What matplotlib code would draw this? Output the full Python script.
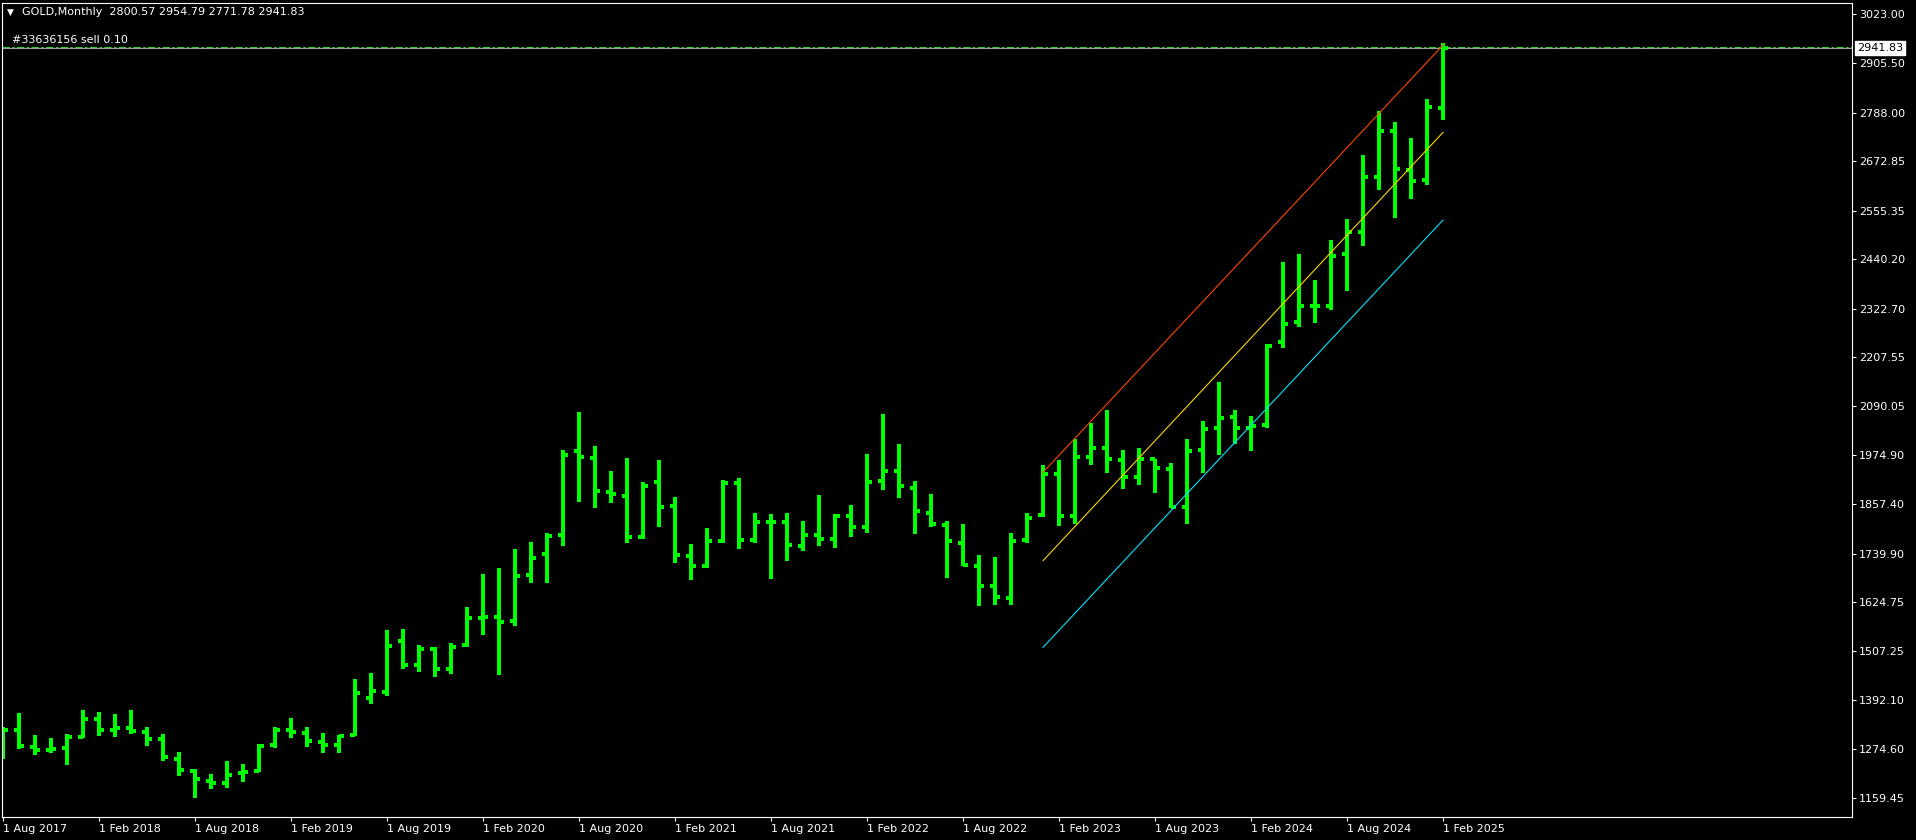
import matplotlib
matplotlib.use("Agg")
import matplotlib.pyplot as plt
import matplotlib.transforms as mtransforms
import numpy as np
import pandas as pd

# ---------------- data ----------------
start_month = "2017-08-01"
opens = [1269.0, 1320.3, 1280.7, 1272.8, 1277.5, 1303.7, 1346.5, 1320.3, 1325.9, 1316.4,
         1299.7, 1252.1, 1223.6, 1199.8, 1195.1, 1218.9, 1222.8, 1285.5, 1320.3, 1314.0,
         1291.8, 1285.5, 1308.4, 1397.2, 1410.0, 1532.8, 1475.7, 1513.8, 1466.2, 1523.3,
         1587.5, 1589.9, 1580.4, 1689.8, 1739.7, 1784.9, 1984.6, 1968.0, 1887.1, 1877.6,
         1780.1, 1910.9, 1853.9, 1734.9, 1711.2, 1770.6, 1908.5, 1773.0, 1815.8, 1815.8,
         1758.7, 1784.9, 1775.4, 1830.0, 1803.9, 1913.3, 1937.1, 1896.6, 1837.2, 1808.7,
         1765.9, 1711.1, 1663.6, 1635.0, 1773.0, 1832.4, 1929.9, 1830.0, 1970.3, 1991.7,
         1963.2, 1922.8, 1965.6, 1941.8, 1851.5, 1987.0, 2039.3, 2065.5, 2039.3, 2046.5,
         2243.8, 2291.4, 2329.4, 2329.4, 2453.0, 2505.3, 2636.1, 2745.5, 2652.8, 2629.0,
         2800.57]
highs = [1328.3, 1360.8, 1308.4, 1301.3, 1310.8, 1367.9, 1363.1, 1358.4, 1367.9, 1327.5,
         1310.8, 1268.0, 1227.6, 1215.7, 1246.6, 1239.5, 1287.0, 1327.5, 1348.9, 1327.5,
         1313.2, 1308.4, 1441.6, 1455.9, 1558.2, 1560.6, 1521.7, 1517.7, 1527.2, 1612.9,
         1691.3, 1705.6, 1750.8, 1767.4, 1788.8, 1986.2, 2076.6, 1995.7, 1936.3, 1967.2,
         1910.1, 1962.4, 1874.5, 1762.7, 1800.7, 1914.9, 1919.6, 1836.4, 1834.0, 1836.4,
         1817.4, 1879.2, 1834.0, 1855.4, 1976.7, 2071.8, 2000.5, 1912.5, 1881.6, 1817.4,
         1810.2, 1736.5, 1731.8, 1788.8, 1836.4, 1950.5, 1962.4, 2012.3, 2050.4, 2081.3,
         1986.2, 1990.9, 1965.6, 1954.5, 2012.3, 2055.2, 2147.9, 2081.3, 2067.1, 2238.3,
         2433.3, 2452.3, 2390.5, 2485.5, 2535.5, 2687.7, 2792.3, 2766.1, 2728.1, 2820.8,
         2954.79]
lows = [1251.4, 1276.0, 1260.9, 1265.6, 1237.1, 1302.1, 1306.1, 1303.7, 1311.6, 1282.3,
        1246.6, 1210.9, 1158.6, 1180.0, 1182.4, 1196.7, 1221.2, 1277.5, 1301.3, 1279.9,
        1265.6, 1265.6, 1306.9, 1382.2, 1402.0, 1466.2, 1459.1, 1447.2, 1454.3, 1518.5,
        1547.1, 1452.0, 1568.5, 1670.7, 1670.7, 1758.7, 1863.4, 1849.1, 1861.0, 1765.9,
        1775.4, 1803.9, 1718.3, 1677.9, 1706.4, 1765.9, 1751.6, 1765.9, 1680.2, 1723.0,
        1746.8, 1758.7, 1754.0, 1780.1, 1789.6, 1891.9, 1872.9, 1787.3, 1803.9, 1682.6,
        1711.1, 1616.0, 1618.4, 1618.4, 1765.9, 1826.1, 1806.3, 1811.0, 1951.3, 1932.3,
        1894.3, 1903.8, 1884.7, 1849.1, 1811.0, 1932.3, 1975.1, 2001.3, 1984.6, 2039.3,
        2229.6, 2279.5, 2289.0, 2319.9, 2365.0, 2472.1, 2605.2, 2538.6, 2583.8, 2617.1,
        2771.78]
closes = [1320.3, 1282.3, 1272.8, 1275.1, 1304.5, 1346.5, 1320.3, 1325.9, 1317.9, 1298.9,
          1256.1, 1225.2, 1203.8, 1195.1, 1213.3, 1221.2, 1282.3, 1320.3, 1315.6, 1294.2,
          1284.7, 1306.9, 1408.3, 1413.1, 1520.9, 1475.7, 1513.8, 1466.2, 1518.5, 1587.5,
          1589.9, 1578.0, 1687.4, 1730.2, 1782.5, 1974.3, 1970.4, 1889.5, 1882.4, 1780.1,
          1901.4, 1851.5, 1737.3, 1711.2, 1770.6, 1908.5, 1773.0, 1815.8, 1815.8, 1761.1,
          1784.9, 1775.4, 1830.0, 1803.9, 1910.9, 1937.1, 1901.4, 1842.0, 1811.0, 1770.6,
          1713.5, 1663.6, 1637.4, 1770.6, 1825.3, 1929.9, 1830.0, 1970.3, 1991.7, 1964.8,
          1922.8, 1965.6, 1944.2, 1851.5, 1984.6, 2036.9, 2063.1, 2039.3, 2044.1, 2234.3,
          2286.6, 2329.4, 2329.4, 2448.3, 2505.3, 2636.1, 2745.5, 2655.2, 2626.6, 2802.6,
          2941.83]

# channel (regression channel) end points: bar index, price
channel_x = [65, 90]
channel_upper = [1933.1, 2949.2]
channel_mid = [1723.0, 2741.6]
channel_lower = [1516.9, 2533.1]

bid_price = 2941.83
order_price = 2944.2
order_label = "#33636156 sell 0.10"
header_symbol = "GOLD,Monthly"
header_ohlc = "2800.57 2954.79 2771.78 2941.83"

y_ticks = [3023.00, 2905.50, 2788.00, 2672.85, 2555.35, 2440.20, 2322.70, 2207.55,
           2090.05, 1974.90, 1857.40, 1739.90, 1624.75, 1507.25, 1392.10, 1274.60, 1159.45]

# ---------------- figure ----------------
W, H = 1916, 840
fig = plt.figure(figsize=(W / 100, H / 100), dpi=100, facecolor="black")
left_px, right_px, top_px, bottom_px = 2, 1852, 3, 817
ax = fig.add_axes([left_px / W, (H - bottom_px) / H,
                   (right_px - left_px) / W, (bottom_px - top_px) / H])
ax.set_facecolor("black")

n = len(opens)
dates = pd.date_range(start_month, periods=n, freq="MS")
x = np.arange(n)

bar_px = 16.0
tick_len = 5.0 / bar_px
green = "#00ff00"
lw_bar = 1.5

ax.vlines(x, lows, highs, color=green, lw=lw_bar, zorder=2, antialiased=False)
ax.hlines(opens, x - tick_len, x, color=green, lw=lw_bar, zorder=2, antialiased=False)
ax.hlines(closes, x, x + tick_len, color=green, lw=lw_bar, zorder=2, antialiased=False)

# channel lines
ax.plot(channel_x, channel_upper, color="#ff4500", lw=0.8, zorder=3)
ax.plot(channel_x, channel_mid, color="#ffd700", lw=0.8, zorder=3)
ax.plot(channel_x, channel_lower, color="#00e5ff", lw=0.8, zorder=3)

# bid line and order line
ax.axhline(bid_price, color="#a0a0a0", lw=0.8, zorder=1)
ax.axhline(order_price, color="#32cd32", lw=0.8, zorder=1,
           dashes=(6.5, 2.2, 2.2, 2.2))

# axis limits (pixel mapping derived from the reference)
ax.set_xlim(-0.0625, 115.56)
ax.set_ylim(1113.5, 3049.2)

for s in ax.spines.values():
    s.set_color("white")
    s.set_linewidth(0.8)

font = "DejaVu Sans"
fs = 8
ax.yaxis.tick_right()
ax.set_yticks(y_ticks)
ax.set_yticklabels([f"{v:.2f}" for v in y_ticks])
ax.tick_params(axis="y", colors="white", labelcolor="white", direction="out",
               length=3, width=0.8, pad=2, labelsize=fs)

xt = x[::6]
ax.set_xticks(xt)
ax.set_xticklabels([f"1 {d.strftime('%b %Y')}" for d in dates[::6]])
ax.tick_params(axis="x", colors="white", labelcolor="white", direction="out",
               length=3, width=0.8, pad=2, labelsize=fs)
for lab in ax.get_xticklabels():
    lab.set_horizontalalignment("left")
    lab.set_family(font)
for lab in ax.get_yticklabels():
    lab.set_family(font)

# price label on the right axis
trans = mtransforms.blended_transform_factory(ax.transAxes, ax.transData)
ax.text((1857 - left_px) / (right_px - left_px), bid_price, f"{bid_price:.2f}",
        transform=trans, ha="left", va="center", fontsize=fs, color="black",
        family=font, clip_on=False,
        bbox=dict(boxstyle="square,pad=0.2", fc="white", ec="white"))

# header texts
fig.text(7 / W, 1 - 12.5 / H, "\u25BC", color="white", fontsize=6.5, family=font,
         ha="left", va="center")
fig.text(22 / W, 1 - 12 / H, header_symbol + "  " + header_ohlc, color="white",
         fontsize=fs, family=font, ha="left", va="center")
fig.text(12 / W, 1 - 40 / H, order_label, color="white", fontsize=fs,
         family=font, ha="left", va="center")

fig.savefig("out.png", dpi=100, facecolor="black")
